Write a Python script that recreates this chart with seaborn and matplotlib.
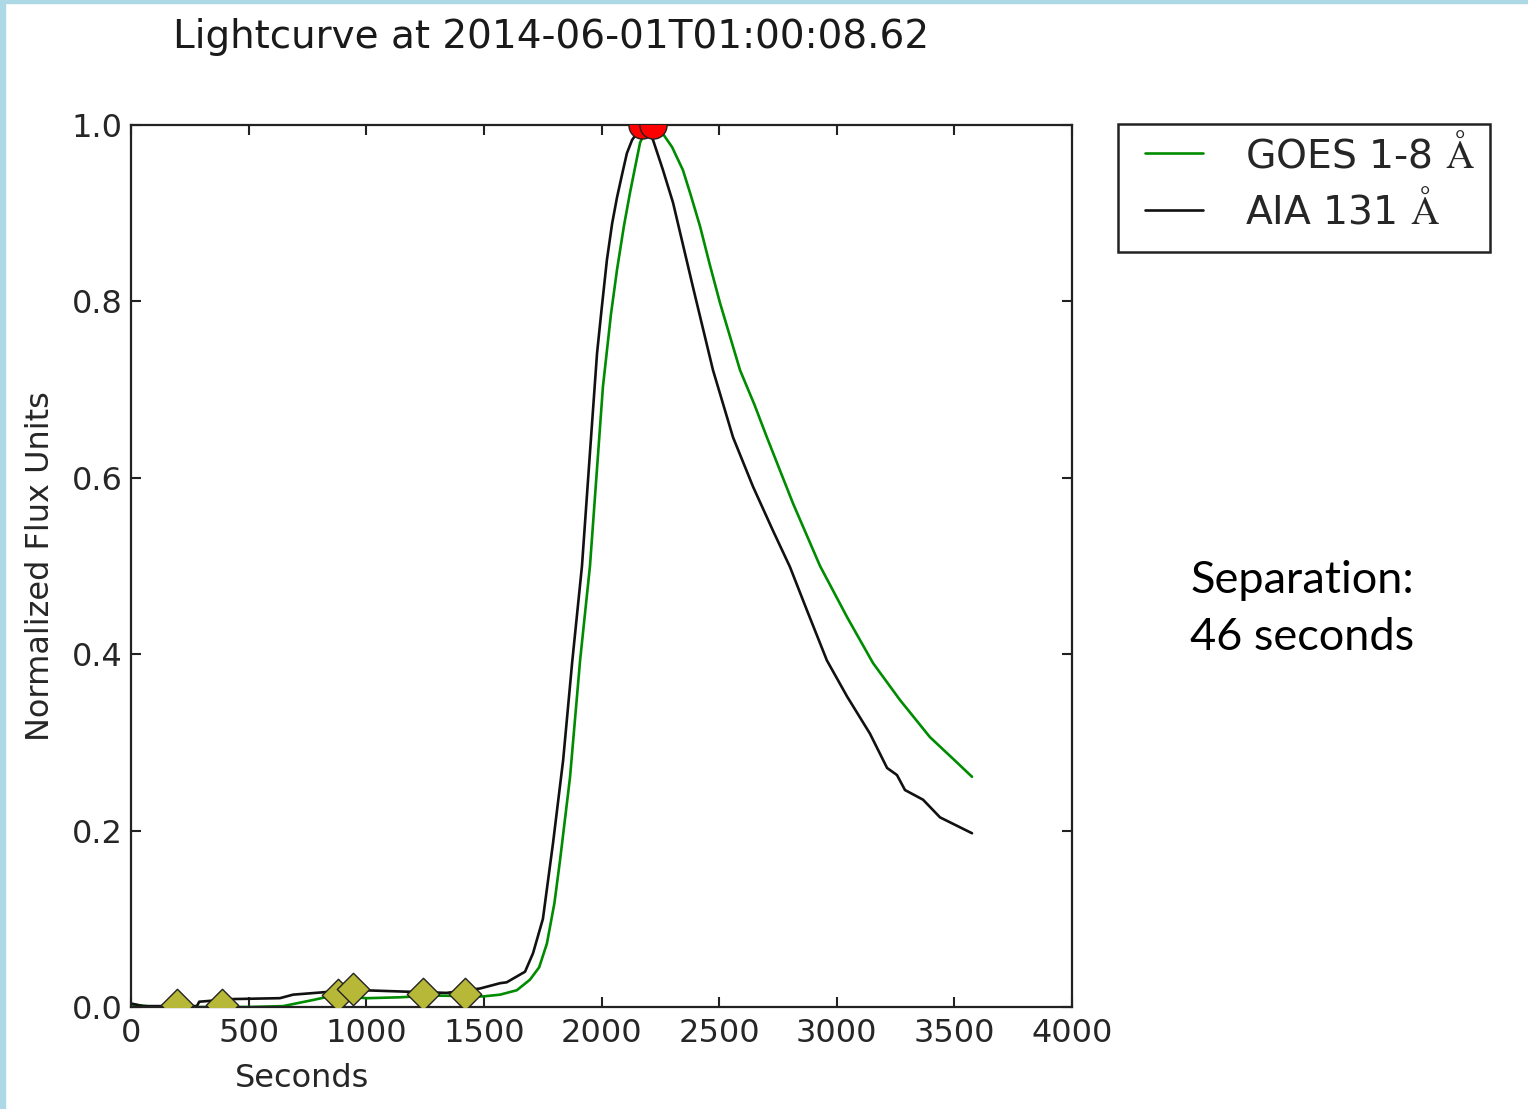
import matplotlib
matplotlib.use("Agg")
import matplotlib.pyplot as plt
import seaborn as sns
import pandas as pd
from matplotlib.patches import Rectangle

# ---------------- data ----------------
goes_time = [0, 100, 300, 500, 646, 775, 860, 1002, 1143, 1285, 1497, 1569, 1640,
             1696, 1735, 1768, 1800, 1824, 1866, 1909, 1951, 2006, 2040, 2066, 2095,
             2121, 2145, 2164, 2190, 2218, 2240, 2261, 2300, 2346, 2380, 2419, 2460,
             2504, 2589, 2650, 2703, 2814, 2929, 3044, 3154, 3269, 3396, 3500, 3575]
goes_flux = [0.003, 0.0, 0.0, 0.0, 0.001, 0.008, 0.013, 0.010, 0.011, 0.013, 0.012,
             0.014, 0.019, 0.031, 0.045, 0.072, 0.118, 0.167, 0.26, 0.393, 0.50, 0.703,
             0.785, 0.836, 0.885, 0.923, 0.955, 0.98, 0.995, 1.0, 0.997, 0.99, 0.975,
             0.949, 0.92, 0.885, 0.842, 0.798, 0.722, 0.683, 0.646, 0.571, 0.50,
             0.442, 0.39, 0.348, 0.306, 0.28, 0.261]

aia_time = [0, 50, 280, 290, 434, 633, 689, 832, 987, 1100, 1215, 1342, 1484, 1569,
            1597, 1675, 1709, 1751, 1794, 1837, 1875, 1917, 1950, 1981, 2000, 2023,
            2045, 2066, 2090, 2108, 2130, 2151, 2172, 2195, 2219, 2260, 2304, 2389,
            2474, 2559, 2644, 2729, 2801, 2873, 2958, 3044, 3141, 3214, 3256, 3290,
            3367, 3439, 3575]
aia_flux = [0.004, 0.001, 0.001, 0.006, 0.009, 0.010, 0.014, 0.017, 0.019, 0.018,
            0.017, 0.016, 0.021, 0.027, 0.028, 0.040, 0.061, 0.10, 0.186, 0.28, 0.39,
            0.50, 0.625, 0.741, 0.79, 0.847, 0.888, 0.918, 0.947, 0.968, 0.983, 0.991,
            1.0, 0.995, 0.983, 0.95, 0.912, 0.816, 0.722, 0.646, 0.59, 0.54, 0.499,
            0.45, 0.393, 0.352, 0.31, 0.271, 0.263, 0.246, 0.235, 0.215, 0.197]

minima_time = [196, 387, 880, 944, 1242, 1420]
minima_flux = [0.002, 0.002, 0.014, 0.020, 0.015, 0.015]

peak_time = [2172, 2218]
peak_flux = [1.0, 1.0]

x_ticks = [0, 500, 1000, 1500, 2000, 2500, 3000, 3500, 4000]
y_ticks = [0.0, 0.2, 0.4, 0.6, 0.8, 1.0]

title_text = "Lightcurve at 2014-06-01T01:00:08.62"
goes_label = r"GOES 1-8 $\mathrm{\AA}$"
aia_label = r"AIA 131 $\mathrm{\AA}$"
note_text = "Separation:\n46 seconds"

# ---------------- style ----------------
sns.set_style("ticks")
plt.rcParams["font.family"] = ["DejaVu Sans"]
plt.rcParams["mathtext.fontset"] = "cm"
plt.rcParams["xtick.direction"] = "in"
plt.rcParams["ytick.direction"] = "in"

W, H = 1528, 1109
fig = plt.figure(figsize=(W / 100, H / 100), dpi=100)
fig.patch.set_facecolor("white")
ax = fig.add_axes([131 / W, 1 - 1007 / H, 941 / W, 882 / H])

goes_df = pd.DataFrame({"t": goes_time, "f": goes_flux})
aia_df = pd.DataFrame({"t": aia_time, "f": aia_flux})
min_df = pd.DataFrame({"t": minima_time, "f": minima_flux})
peak_df = pd.DataFrame({"t": peak_time, "f": peak_flux})

green = (0.0, 0.55, 0.0)
sns.lineplot(data=goes_df, x="t", y="f", ax=ax, color=green, linewidth=1.9,
             estimator=None, sort=False, label=goes_label, zorder=2)
sns.lineplot(data=aia_df, x="t", y="f", ax=ax, color="#111111", linewidth=1.9,
             estimator=None, sort=False, label=aia_label, zorder=2)
sns.scatterplot(data=min_df, x="t", y="f", ax=ax, marker="D", s=16.5 ** 2,
                color="#b8b838", edgecolor="#222222", linewidth=1.0,
                legend=False, zorder=3, clip_on=True)
sns.scatterplot(data=peak_df, x="t", y="f", ax=ax, marker="o", s=19.5 ** 2,
                color="#ff0000", edgecolor="#222222", linewidth=1.0,
                legend=False, zorder=3, clip_on=True)

ax.set_xlim(0, 4000)
ax.set_ylim(0, 1.0)
ax.set_xticks(x_ticks)
ax.set_yticks(y_ticks)
ax.set_yticklabels([f"{v:.1f}" for v in y_ticks])
ax.tick_params(axis="both", which="major", direction="in", length=7, width=1.5,
               top=True, right=True, labelsize=23, color="#222222")
ax.tick_params(axis="x", pad=8)
ax.tick_params(axis="y", pad=6)
for sp in ax.spines.values():
    sp.set_visible(True)
    sp.set_linewidth(1.6)
    sp.set_color("#222222")

ax.set_xlabel("Seconds", fontsize=23)
ax.xaxis.set_label_coords(0.182, -0.0805)
ax.xaxis.label.set_va("center")
ax.set_ylabel("Normalized Flux Units", fontsize=23)
ax.yaxis.set_label_coords(-0.0967, 0.5)
ax.yaxis.label.set_va("center")

fig.text(551 / W, 1 - 37 / H, title_text, ha="center", va="center", fontsize=28,
         color="#1a1a1a")

# legend (frameless) plus its own rectangular frame
handles, labels = ax.get_legend_handles_labels()
leg = ax.legend(handles, labels, loc="upper left",
                bbox_to_anchor=(1145 / W, 1 - 133 / H), bbox_transform=fig.transFigure,
                borderaxespad=0, borderpad=0, fontsize=28.3, frameon=False,
                handlelength=1.48, handletextpad=1.07, labelspacing=0.38)
fig.add_artist(Rectangle((1118 / W, 1 - 252 / H), 372 / W, 128 / H,
                         transform=fig.transFigure, facecolor="none",
                         edgecolor="#222222", linewidth=1.8, zorder=1))

fig.text(1190 / W, 1 - 609 / H, note_text, ha="left", va="center", fontsize=32.5,
         family=["Lato", "DejaVu Sans"], color="black", linespacing=1.5)

# light blue border of the slide screenshot
fig.add_artist(Rectangle((0, 0), 5 / W, 1, transform=fig.transFigure,
                         color="#add8e6", zorder=0))
fig.add_artist(Rectangle((0, 1 - 3 / H), 1, 3 / H, transform=fig.transFigure,
                         color="#add8e6", zorder=0))

fig.savefig("out.png", dpi=100, facecolor="white")
